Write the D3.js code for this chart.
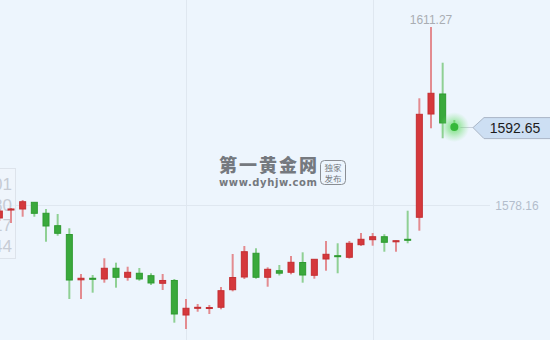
<!DOCTYPE html>
<html>
<head>
<meta charset="utf-8">
<script src="https://cdn.jsdelivr.net/npm/d3@7"></script>
<style>
  html, body { margin: 0; padding: 0; background: #edf5fd; overflow: hidden; }
  svg { display: block; }
</style>
</head>
<body>
<div id="chart"></div>
<script>
// candle values (index 0 is half hidden on the left edge)
const opens  = [1575.56, 1577.04, 1577.23, 1578.66, 1576.62, 1574.31, 1572.67, 1564.06, 1564.53, 1564.21,
                1566.39, 1564.53, 1565.46, 1565.01, 1563.41, 1564.12, 1557.51, 1558.76, 1558.76, 1558.95,
                1562.22, 1564.58, 1569.18, 1564.53, 1565.94, 1565.46, 1567.46, 1564.90, 1567.93, 1568.73,
                1568.25, 1570.59, 1571.52, 1572.26, 1571.13, 1571.78, 1575.69, 1594.90, 1598.81, 1592.75];
const highs  = [1577.42, 1577.60, 1579.09, 1578.72, 1577.42, 1576.49, 1573.83, 1565.33, 1565.14, 1568.25,
                1567.43, 1566.68, 1566.44, 1565.46, 1565.33, 1564.40, 1560.67, 1559.74, 1559.56, 1562.91,
                1569.05, 1570.53, 1570.11, 1566.57, 1567.00, 1568.67, 1569.36, 1568.10, 1571.46, 1571.04,
                1571.46, 1572.95, 1572.95, 1572.73, 1571.55, 1577.10, 1598.01, 1611.27, 1604.63, 1593.97];
const lows   = [1575.18, 1574.81, 1575.98, 1575.98, 1571.33, 1572.45, 1560.67, 1560.67, 1561.85, 1563.71,
                1562.78, 1564.08, 1564.08, 1563.28, 1562.35, 1556.27, 1555.09, 1558.31, 1557.88, 1558.76,
                1562.10, 1564.40, 1564.45, 1562.96, 1565.05, 1565.27, 1563.71, 1564.45, 1565.94, 1565.46,
                1568.20, 1570.55, 1570.59, 1569.47, 1569.47, 1571.04, 1573.38, 1592.43, 1590.57, 1592.65];
const closes = [1577.04, 1577.42, 1578.77, 1576.43, 1574.07, 1572.71, 1564.02, 1564.53, 1564.15, 1566.39,
                1564.53, 1565.64, 1564.21, 1563.47, 1564.12, 1557.70, 1558.95, 1559.13, 1559.09, 1562.22,
                1564.67, 1569.47, 1564.53, 1566.20, 1565.29, 1567.50, 1564.95, 1568.06, 1568.99, 1568.36,
                1571.04, 1571.78, 1572.26, 1571.04, 1571.52, 1571.41, 1595.03, 1598.94, 1593.23, 1592.65];

const maxLabel = "1611.27";
const refLabel = "1578.16";
const refPrice = 1578.16;
const lastLabel = "1592.65";
const tipLines = ["1577.01", "1577.80", "1575.17", "1576.44"];
const gridIdx = [16, 32];

const width = 550, height = 340;
const upColor = "#d5383c", upLine = "#c42f33", upWick = "#e38b90";
const downColor = "#3aa93c", downLine = "#2f9a31", downWick = "#8fd094";

const svg = d3.select("#chart").append("svg")
    .attr("width", width)
    .attr("height", height);

const x = d3.scaleLinear().domain([0, 16]).range([-0.67, 186]);
const y = d3.scaleLinear().domain([refPrice, 1611.27]).range([205, 27]);

const data = opens.map(function(o, i) {
    return {i: i, o: o, h: highs[i], l: lows[i], c: closes[i]};
});
const last = data[data.length - 1];
const candles = data.slice(0, data.length - 1);

// grid
svg.selectAll(".vgrid")
    .data(gridIdx)
    .join("line")
    .attr("x1", d => Math.round(x(d)) + 0.5)
    .attr("x2", d => Math.round(x(d)) + 0.5)
    .attr("y1", 0).attr("y2", height)
    .attr("stroke", "#dfe7f0");

svg.append("line")
    .attr("x1", 0).attr("x2", 490)
    .attr("y1", Math.round(y(refPrice)) + 0.5).attr("y2", Math.round(y(refPrice)) + 0.5)
    .attr("stroke", "#dfe7f0");

// watermark
const wm = svg.append("g").attr("fill", "#75797f");
wm.append("text")
    .attr("x", 219).attr("y", 172)
    .attr("textLength", 98)
    .style("font-family", "'Noto Sans CJK SC', sans-serif")
    .style("font-weight", "900")
    .style("font-size", "18px")
    .text("第一黄金网");
wm.append("text")
    .attr("x", 219).attr("y", 186)
    .attr("textLength", 98)
    .style("font-family", "'DejaVu Sans', sans-serif")
    .style("font-weight", "bold")
    .style("font-size", "10px")
    .text("www.dyhjw.com");
wm.append("rect")
    .attr("x", 320.5).attr("y", 160.5).attr("width", 25).attr("height", 24).attr("rx", 4)
    .attr("fill", "none").attr("stroke", "#8a8e94");
wm.append("text")
    .attr("x", 333).attr("y", 170.5)
    .attr("text-anchor", "middle")
    .style("font-family", "'Noto Sans CJK SC', sans-serif")
    .style("font-size", "8.5px")
    .text("独家");
wm.append("text")
    .attr("x", 333).attr("y", 181.5)
    .attr("text-anchor", "middle")
    .style("font-family", "'Noto Sans CJK SC', sans-serif")
    .style("font-size", "8.5px")
    .text("发布");

// faded tooltip box on the left edge
svg.append("rect")
    .attr("x", -5.5).attr("y", 168.5).attr("width", 21).attr("height", 90)
    .attr("fill", "rgba(240,245,252,0.6)")
    .attr("stroke", "#dde3eb");
svg.selectAll(".tip")
    .data(tipLines)
    .join("text")
    .attr("x", 12)
    .attr("y", (d, i) => 190 + i * 20.5)
    .attr("text-anchor", "end")
    .attr("fill", "#c6cbd4")
    .style("font-family", "'Liberation Sans', Arial, sans-serif")
    .style("font-size", "17px")
    .text(d => d);

// wicks
svg.selectAll(".wick")
    .data(data)
    .join("line")
    .attr("x1", d => x(d.i)).attr("x2", d => x(d.i))
    .attr("y1", d => y(d.h)).attr("y2", d => y(d.l))
    .attr("stroke", d => d.c >= d.o ? upWick : downWick)
    .attr("stroke-width", 2);

// bodies
svg.selectAll(".body")
    .data(candles)
    .join("rect")
    .attr("x", d => x(d.i) - 3)
    .attr("width", 6)
    .attr("y", d => y(Math.max(d.o, d.c)))
    .attr("height", d => Math.max(1, Math.abs(y(d.o) - y(d.c)) - 1))
    .attr("fill", d => d.c >= d.o ? upColor : downColor)
    .attr("stroke", d => d.c >= d.o ? upLine : downLine)
    .attr("stroke-width", 1);

// current price marker
const defs = svg.append("defs");
const grad = defs.append("radialGradient").attr("id", "glow");
grad.append("stop").attr("offset", "0%").attr("stop-color", "#49d84a").attr("stop-opacity", 0.75);
grad.append("stop").attr("offset", "45%").attr("stop-color", "#5fdc5f").attr("stop-opacity", 0.45);
grad.append("stop").attr("offset", "100%").attr("stop-color", "#7fe37f").attr("stop-opacity", 0);

const lx = x(last.i), ly = y(last.c);
svg.append("line")
    .attr("x1", lx + 6).attr("x2", 473)
    .attr("y1", Math.round(ly) + 0.5).attr("y2", Math.round(ly) + 0.5)
    .attr("stroke", "#c8d0da");
svg.append("circle")
    .attr("cx", lx).attr("cy", ly).attr("r", 15)
    .attr("fill", "url(#glow)");
svg.append("circle")
    .attr("cx", lx).attr("cy", ly).attr("r", 4)
    .attr("fill", "#36b83a");

// last price label
const tipX = 473;
svg.append("path")
    .attr("d", `M${tipX},${ly + 0.5} L${tipX + 11},${ly - 9.5} L${width + 2},${ly - 9.5} L${width + 2},${ly + 11.5} L${tipX + 11},${ly + 11.5} Z`)
    .attr("fill", "#cddff3")
    .attr("stroke", "#aab6c6");
svg.append("text")
    .attr("x", 515).attr("y", ly + 6)
    .attr("text-anchor", "middle")
    .attr("fill", "#1c1c1c")
    .style("font-family", "'Liberation Sans', Arial, sans-serif")
    .style("font-size", "14px")
    .text(lastLabel);

// max and reference labels
const maxIdx = d3.maxIndex(highs);
svg.append("text")
    .attr("x", x(maxIdx)).attr("y", 24)
    .attr("text-anchor", "middle")
    .attr("fill", "#a9adb3")
    .style("font-family", "'Liberation Sans', Arial, sans-serif")
    .style("font-size", "12px")
    .text(maxLabel);
svg.append("text")
    .attr("x", 517).attr("y", y(refPrice) + 5)
    .attr("text-anchor", "middle")
    .attr("fill", "#b3bdcc")
    .style("font-family", "'Liberation Sans', Arial, sans-serif")
    .style("font-size", "12px")
    .text(refLabel);
</script>
</body>
</html>
